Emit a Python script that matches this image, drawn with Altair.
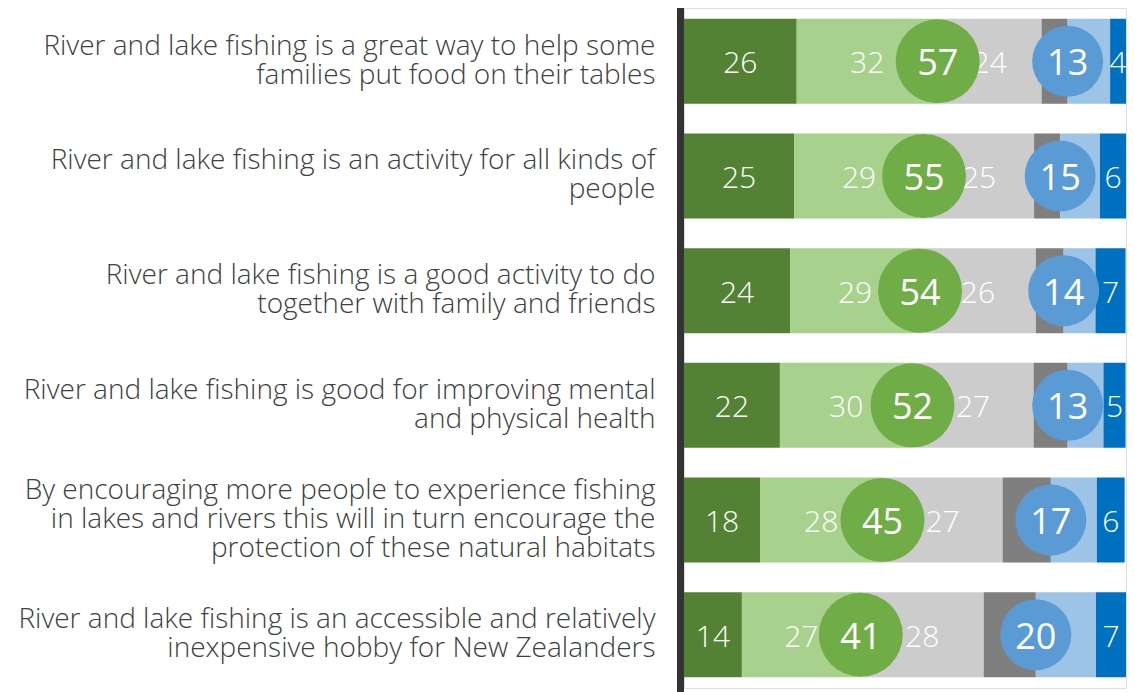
import altair as alt
import pandas as pd

# Statements (| marks a line break)
statements = [
    "River and lake fishing is a great way to help some|families put food on their tables",
    "River and lake fishing is an activity for all kinds of|people",
    "River and lake fishing is a good activity to do|together with family and friends",
    "River and lake fishing is good for improving mental|and physical health",
    "By encouraging more people to experience fishing|in lakes and rivers this will in turn encourage the|protection of these natural habitats",
    "River and lake fishing is an accessible and relatively|inexpensive hobby for New Zealanders",
]

# Segment shares (% as drawn)
strongly_agree = [25.5, 24.9, 24.0, 21.7, 17.2, 13.1]
agree = [31.9, 29.4, 29.4, 30.0, 27.7, 26.9]
neutral = [23.5, 24.9, 26.2, 27.4, 27.2, 27.8]
dont_know = [5.9, 5.9, 6.3, 7.7, 10.9, 11.8]
disagree = [9.6, 9.0, 7.2, 8.1, 10.4, 13.6]
strongly_disagree = [3.6, 5.9, 6.8, 5.0, 6.3, 6.8]

# Displayed labels
lbl_strongly_agree = [26, 25, 24, 22, 18, 14]
lbl_agree = [32, 29, 29, 30, 28, 27]
lbl_neutral = [24, 25, 26, 27, 27, 28]
lbl_strongly_disagree = [4, 6, 7, 5, 6, 7]
net_agree = [57, 55, 54, 52, 45, 41]
net_disagree = [13, 15, 14, 13, 17, 20]

seg_names = ["Strongly agree", "Agree", "Neutral", "Don't know", "Disagree", "Strongly disagree"]
seg_colors = ["#548235", "#A9D18E", "#CDCCCD", "#7F7F7F", "#9DC3E6", "#0070C0"]
series = [strongly_agree, agree, neutral, dont_know, disagree, strongly_disagree]
labels = {0: lbl_strongly_agree, 1: lbl_agree, 2: lbl_neutral, 5: lbl_strongly_disagree}

seg_rows, lab_rows, green_rows, blue_rows = [], [], [], []
for i, st in enumerate(statements):
    cum = 0.0
    for k, name in enumerate(seg_names):
        v = series[k][i]
        seg_rows.append({"stmt": st, "seg": name, "start": cum, "end": cum + v})
        if k in labels:
            lab_rows.append({"stmt": st, "mid": cum + v / 2, "lbl": labels[k][i]})
        cum += v
        if k == 1:
            green_rows.append({"stmt": st, "pos": cum, "lbl": net_agree[i]})
        if k == 3:
            blue_rows.append({"stmt": st, "pos": cum, "lbl": net_disagree[i]})

seg_df = pd.DataFrame(seg_rows)
lab_df = pd.DataFrame(lab_rows)
green_df = pd.DataFrame(green_rows)
blue_df = pd.DataFrame(blue_rows)

H = 680
FONT = "Open Sans"
LH = 29

yenc = alt.Y(
    "stmt:N",
    sort=statements,
    scale=alt.Scale(paddingInner=0.259, paddingOuter=0.094),
    axis=alt.Axis(
        title=None, domain=False, ticks=False, labelPadding=29,
        labelFontSize=28, labelColor="#404040", labelFont=FONT, labelFontWeight=300,
        labelLineHeight=LH, labelLimit=700,
        labelExpr="split(datum.value, '|')",
        labelOffset={
            "condition": {"test": "length(split(datum.value, '|')) == 3", "value": -LH},
            "value": -LH / 2,
        },
    ),
)
xscale = alt.Scale(domain=[0, 100], nice=False, zero=False)

bars = alt.Chart(seg_df).mark_bar(strokeWidth=0).encode(
    x=alt.X("start:Q", scale=xscale, axis=None),
    x2="end:Q",
    y=yenc,
    color=alt.Color("seg:N", scale=alt.Scale(domain=seg_names, range=seg_colors), legend=None),
)

seg_text = alt.Chart(lab_df).mark_text(color="white", fontSize=30, font=FONT, fontWeight=300, dy=3).encode(
    x=alt.X("mid:Q", scale=xscale), y=yenc, text="lbl:Q"
)

green_circ = alt.Chart(green_df).mark_circle(size=7056, opacity=1, color="#70AD47").encode(
    x=alt.X("pos:Q", scale=xscale), y=yenc
)
green_txt = alt.Chart(green_df).mark_text(color="white", fontSize=36, font=FONT, dy=3).encode(
    x=alt.X("pos:Q", scale=xscale), y=yenc, text="lbl:Q"
)
blue_circ = alt.Chart(blue_df).mark_circle(size=5041, opacity=1, color="#5B9BD5").encode(
    x=alt.X("pos:Q", scale=xscale), y=yenc
)
blue_txt = alt.Chart(blue_df).mark_text(color="white", fontSize=36, font=FONT, dy=3).encode(
    x=alt.X("pos:Q", scale=xscale), y=yenc, text="lbl:Q"
)

axis_line = alt.Chart(seg_df).mark_rule(color="#333333", strokeWidth=7).encode(
    x=alt.value(-3.5), y=alt.value(-4), y2=alt.value(H + 4)
)

chart = alt.layer(bars, seg_text, green_circ, green_txt, blue_circ, blue_txt, axis_line).properties(
    width=442, height=H,
    autosize=alt.AutoSizeParams(type="none"),
    padding={"left": 676, "top": 0, "right": 1, "bottom": 4},
).configure_view(stroke=None).configure(background="white")

chart.save("out.html", embed_options={"renderer": "svg", "actions": False})
